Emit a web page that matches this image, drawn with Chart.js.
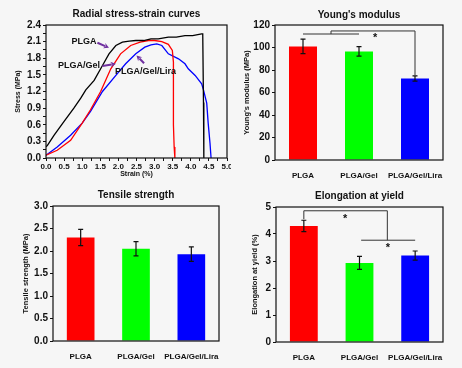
<!DOCTYPE html>
<html><head><meta charset="utf-8">
<script src="https://cdn.jsdelivr.net/npm/chart.js@4.4.0/dist/chart.umd.min.js"></script>
<style>
html,body{margin:0;padding:0;background:#f6f6f6;width:462px;height:368px;overflow:hidden}
canvas{position:absolute}
</style></head><body>
<canvas id="c1" width="231" height="184" style="left:0;top:0"></canvas>
<canvas id="c2" width="231" height="184" style="left:231px;top:0"></canvas>
<canvas id="c3" width="231" height="184" style="left:0;top:184px"></canvas>
<canvas id="c4" width="231" height="184" style="left:231px;top:184px"></canvas>
<script>
// ---------- data ----------
const plgaStrain = [0, 0.04, 0.22, 0.5, 0.77, 0.96, 1.1, 1.33, 1.56, 1.74, 1.93, 2.11, 2.3, 2.48, 2.7, 2.9, 3.1, 3.38, 3.6, 3.84, 4.05, 4.3, 4.33, 4.35, 4.36];
const plgaStress = [0.2, 0.23, 0.41, 0.66, 0.9, 1.08, 1.23, 1.4, 1.67, 1.88, 2.03, 2.09, 2.11, 2.12, 2.12, 2.15, 2.15, 2.18, 2.18, 2.21, 2.21, 2.24, 2.24, 1.0, 0];
const gelStrain = [0, 0.31, 0.68, 1.0, 1.23, 1.51, 1.79, 2.06, 2.34, 2.6, 2.83, 3.0, 3.2, 3.38, 3.49, 3.52, 3.52, 3.54, 3.56];
const gelStress = [0.05, 0.14, 0.32, 0.63, 0.87, 1.2, 1.61, 1.88, 2.03, 2.09, 2.12, 2.12, 2.1, 2.05, 1.94, 1.73, 0.6, 0.2, 0];
const liraStrain = [0, 0.31, 0.68, 1.0, 1.23, 1.56, 1.93, 2.2, 2.48, 2.73, 2.9, 3.06, 3.2, 3.38, 3.66, 3.84, 3.93, 4.12, 4.3, 4.35, 4.44, 4.48, 4.53, 4.56];
const liraStress = [0.05, 0.2, 0.41, 0.63, 0.84, 1.2, 1.49, 1.7, 1.88, 2.0, 2.04, 2.06, 2.03, 1.88, 1.79, 1.7, 1.61, 1.49, 1.34, 1.23, 0.99, 0.63, 0.27, 0];

const groups = ['PLGA', 'PLGA/Gel', 'PLGA/Gel/Lira'];
const youngMean = [101, 96.5, 72.5];
const youngErr = [6.5, 4.2, 2.3];
const tensileMean = [2.3, 2.05, 1.93];
const tensileErr = [0.18, 0.16, 0.16];
const elongMean = [4.3, 2.93, 3.2];
const elongErr = [0.21, 0.24, 0.17];

// ---------- styling ----------
const FONT = "'Liberation Sans', Arial, Helvetica, sans-serif";
const INK = '#111111';
const PURPLE = '#7030a0';
const barColors = ['#ff0000', '#00ff00', '#0000ff'];
const lineColors = ['#000000', '#ff0000', '#0000ff'];

function near(v, step) { return Math.abs(v / step - Math.round(v / step)) < 1e-6; }

const framePlugin = {
  id: 'frame',
  afterDraw(chart) {
    const a = chart.chartArea, ctx = chart.ctx;
    ctx.save();
    ctx.strokeStyle = INK; ctx.lineWidth = 1.2;
    ctx.strokeRect(a.left, a.top, a.right - a.left, a.bottom - a.top);
    ctx.restore();
  }
};

function errorBarPlugin(err) {
  return {
    id: 'errbars',
    afterDatasetsDraw(chart) {
      const meta = chart.getDatasetMeta(0), ys = chart.scales.y, ctx = chart.ctx;
      const vals = chart.data.datasets[0].data;
      ctx.save();
      ctx.strokeStyle = INK; ctx.lineWidth = 1.2;
      meta.data.forEach((bar, i) => {
        const x = bar.x;
        const t = ys.getPixelForValue(vals[i] + err[i]);
        const b = ys.getPixelForValue(vals[i] - err[i]);
        ctx.beginPath();
        ctx.moveTo(x, t); ctx.lineTo(x, b);
        ctx.moveTo(x - 2.5, t); ctx.lineTo(x + 2.5, t);
        ctx.moveTo(x - 2.5, b); ctx.lineTo(x + 2.5, b);
        ctx.stroke();
      });
      ctx.restore();
    }
  };
}

function bracketPlugin(lines, stars) {
  return {
    id: 'brackets',
    afterDatasetsDraw(chart) {
      const xs = chart.scales.x, ys = chart.scales.y, ctx = chart.ctx;
      ctx.save();
      ctx.strokeStyle = '#333'; ctx.lineWidth = 1;
      lines.forEach(pl => {
        ctx.beginPath();
        pl.forEach((p, k) => {
          const X = xs.getPixelForValue(p[0]), Y = ys.getPixelForValue(p[1]);
          k ? ctx.lineTo(X, Y) : ctx.moveTo(X, Y);
        });
        ctx.stroke();
      });
      ctx.fillStyle = INK; ctx.font = 'bold 11px ' + FONT;
      ctx.textAlign = 'center'; ctx.textBaseline = 'alphabetic';
      stars.forEach(s => {
        ctx.fillText('*', xs.getPixelForValue(s[0]), ys.getPixelForValue(s[1]) + 6);
      });
      ctx.restore();
    }
  };
}

function arrow(ctx, x1, y1, x2, y2) {
  const a = Math.atan2(y2 - y1, x2 - x1), h = 6;
  ctx.beginPath(); ctx.moveTo(x1, y1);
  ctx.lineTo(x2 - h * 0.7 * Math.cos(a), y2 - h * 0.7 * Math.sin(a)); ctx.stroke();
  ctx.beginPath(); ctx.moveTo(x2, y2);
  ctx.lineTo(x2 - h * Math.cos(a - 0.5), y2 - h * Math.sin(a - 0.5));
  ctx.lineTo(x2 - h * 0.6 * Math.cos(a), y2 - h * 0.6 * Math.sin(a));
  ctx.lineTo(x2 - h * Math.cos(a + 0.5), y2 - h * Math.sin(a + 0.5));
  ctx.closePath(); ctx.fill();
}

const curveLabels = [
  { text: 'PLGA', x: 1.05, y: 2.11 },
  { text: 'PLGA/Gel', x: 0.91, y: 1.66 },
  { text: 'PLGA/Gel/Lira', x: 2.75, y: 1.56 }
];
const curveArrows = [[1.42, 2.08, 1.74, 1.99], [1.56, 1.66, 1.93, 1.70], [2.71, 1.71, 2.5, 1.85]];

const annotatePlugin = {
  id: 'annot',
  afterDatasetsDraw(chart) {
    const xs = chart.scales.x, ys = chart.scales.y, ctx = chart.ctx;
    ctx.save();
    ctx.font = 'bold 9px ' + FONT; ctx.fillStyle = INK;
    ctx.textAlign = 'center'; ctx.textBaseline = 'middle';
    curveLabels.forEach(l => ctx.fillText(l.text, xs.getPixelForValue(l.x), ys.getPixelForValue(l.y)));
    ctx.strokeStyle = PURPLE; ctx.fillStyle = PURPLE; ctx.lineWidth = 2;
    curveArrows.forEach(a => arrow(ctx, xs.getPixelForValue(a[0]), ys.getPixelForValue(a[1]),
      xs.getPixelForValue(a[2]), ys.getPixelForValue(a[3])));
    ctx.restore();
  }
};

function titleOpt(text, top, bottom) {
  return { display: true, text, fullSize: false, color: INK,
    font: { family: FONT, size: 10, weight: 'bold', lineHeight: 1 },
    padding: { top, bottom } };
}
function fixW(w) { return s => { s.width = w; }; }
function fixH(h) { return s => { s.height = h; s.paddingLeft = 0; s.paddingRight = 0; }; }

Chart.defaults.font.family = FONT;
Chart.defaults.color = INK;
Chart.defaults.animation = false;

// ---------- Panel 1 ----------
const toXY = (xs, ys) => xs.map((x, i) => ({ x, y: ys[i] }));
new Chart(document.getElementById('c1'), {
  type: 'line',
  data: {
    datasets: [
      { label: 'PLGA', data: toXY(plgaStrain, plgaStress), borderColor: lineColors[0] },
      { label: 'PLGA/Gel', data: toXY(gelStrain, gelStress), borderColor: lineColors[1] },
      { label: 'PLGA/Gel/Lira', data: toXY(liraStrain, liraStress), borderColor: lineColors[2] }
    ]
  },
  options: {
    responsive: false,
    layout: { padding: { left: 0, right: 4, top: 0, bottom: 0 } },
    elements: { point: { radius: 0 }, line: { borderWidth: 1.3, tension: 0 } },
    plugins: { legend: { display: false }, tooltip: { enabled: false },
      title: titleOpt('Radial stress-strain curves', 9.5, 5.5) },
    scales: {
      x: { type: 'linear', min: 0, max: 5, afterFit: fixH(26),
        ticks: { stepSize: 0.25, autoSkip: false, maxRotation: 0, padding: 1,
          font: { size: 8, weight: 'bold' },
          callback: v => near(v, 0.5) ? v.toFixed(1) : '' },
        grid: { drawOnChartArea: false, color: INK, tickLength: 3 },
        border: { display: false },
        title: { display: true, text: 'Strain (%)', font: { size: 7, weight: 'bold' }, padding: { top: 0, bottom: 5.8 } } },
      y: { min: 0, max: 2.4, afterFit: fixW(46),
        ticks: { stepSize: 0.15, autoSkip: false, padding: 2,
          font: { size: 10, weight: 'bold' },
          callback: v => near(v, 0.3) ? v.toFixed(1) : '' },
        grid: { drawOnChartArea: false, color: INK, tickLength: 3 },
        border: { display: false },
        title: { display: true, text: 'Stress (MPa)', font: { size: 7, weight: 'bold' }, padding: { top: 13.8, bottom: 0 } } }
    }
  },
  plugins: [framePlugin, annotatePlugin]
});

// ---------- bar panels ----------
function barChart(id, title, tpad, yTitle, ytPad, mean, err, ymax, step, fmt, pad, xh, yw, extra) {
  return new Chart(document.getElementById(id), {
    type: 'bar',
    data: { labels: groups, datasets: [{ data: mean, backgroundColor: barColors,
      barPercentage: 0.5, categoryPercentage: 1 }] },
    options: {
      responsive: false,
      layout: { padding: pad },
      plugins: { legend: { display: false }, tooltip: { enabled: false },
        title: titleOpt(title, tpad[0], tpad[1]) },
      scales: {
        x: { afterFit: fixH(xh),
          ticks: { font: { size: 8, weight: 'bold' }, padding: 3, maxRotation: 0, autoSkip: false },
          grid: { display: false }, border: { display: false } },
        y: { min: 0, max: ymax, afterFit: fixW(yw),
          ticks: { stepSize: step, font: { size: 10, weight: 'bold' }, padding: 2, callback: fmt },
          grid: { drawOnChartArea: false, color: INK, tickLength: 3 },
          border: { display: false },
          title: { display: true, text: yTitle, font: { size: 7.5, weight: 'bold' }, padding: { top: ytPad, bottom: 0 } } }
      }
    },
    plugins: [framePlugin, errorBarPlugin(err)].concat(extra)
  });
}

barChart('c2', "Young's modulus", [10, 5], "Young's modulus (MPa)", 11.2,
  youngMean, youngErr, 120, 20, v => v, { left: 0, right: 19, top: 0, bottom: 0 }, 24, 44,
  [bracketPlugin([[[0, 112], [1, 112]], [[0.5, 112], [0.5, 114.7], [2, 114.7], [2, 75.5]]], [[1.29, 111]])]);

barChart('c3', 'Tensile strength', [6, 6], 'Tensile strength (MPa)', 21.5,
  tensileMean, tensileErr, 3, 0.5, v => v.toFixed(1), { left: 0, right: 12, top: 0, bottom: 0 }, 27, 53, []);

barChart('c4', 'Elongation at yield', [7, 6], 'Elongation at yield (%)', 19,
  elongMean, elongErr, 5, 1, v => v, { left: 0, right: 19, top: 0, bottom: 0 }, 26, 45,
  [bracketPlugin([[[0, 4.55], [0, 4.86], [1.5, 4.86], [1.5, 3.77]], [[1.03, 3.77], [2, 3.77]]], [[0.74, 4.66], [1.51, 3.59]])]);
</script>
</body></html>
